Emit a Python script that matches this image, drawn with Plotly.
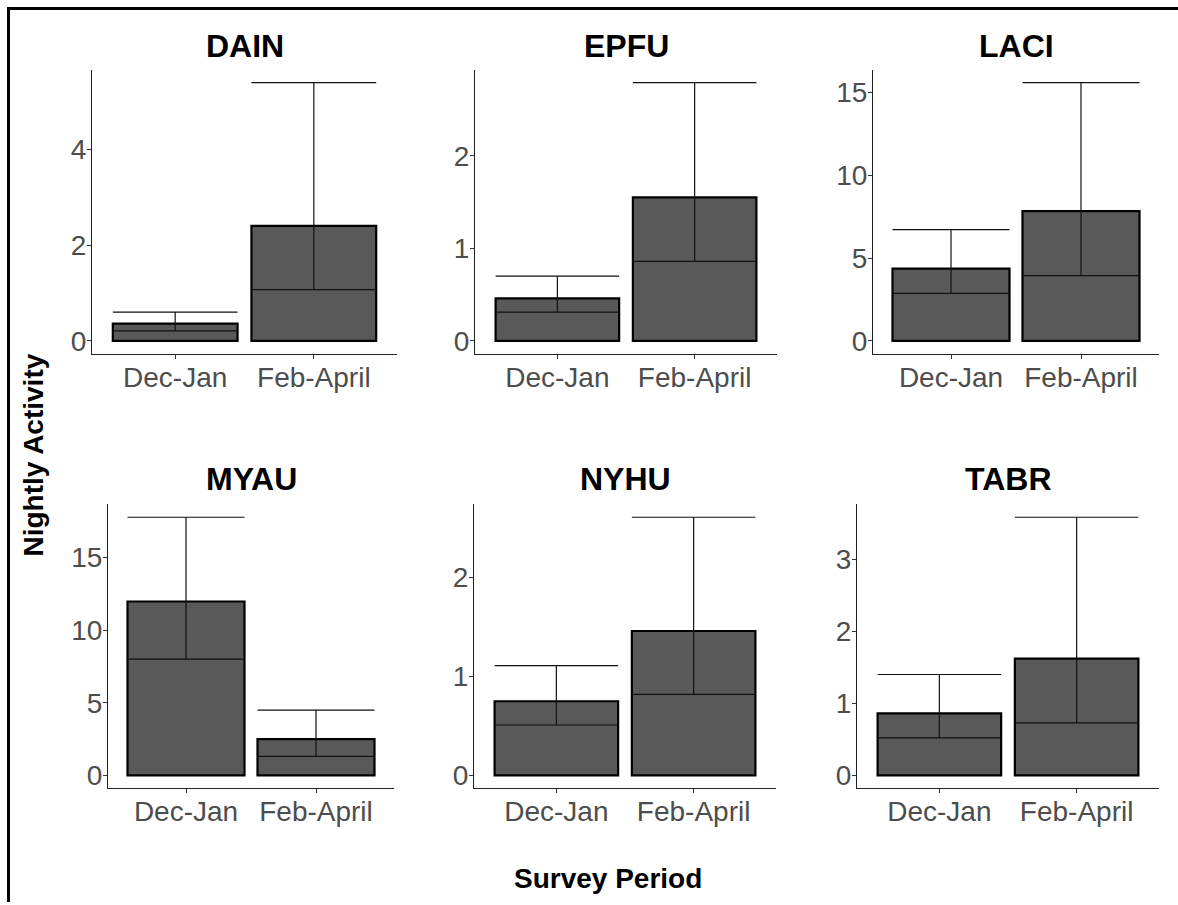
import plotly.graph_objects as go

W, H = 1178, 905

# ---------------- data ----------------
periods = ["Dec-Jan", "Feb-April"]
species = ["DAIN", "EPFU", "LACI", "MYAU", "NYHU", "TABR"]

DAIN_mean = [0.36, 2.40]
DAIN_lower = [0.21, 1.07]
DAIN_upper = [0.60, 5.39]

EPFU_mean = [0.46, 1.55]
EPFU_lower = [0.31, 0.86]
EPFU_upper = [0.70, 2.79]

LACI_mean = [4.37, 7.84]
LACI_lower = [2.87, 3.95]
LACI_upper = [6.72, 15.60]

MYAU_mean = [11.97, 2.50]
MYAU_lower = [8.00, 1.32]
MYAU_upper = [17.77, 4.50]

NYHU_mean = [0.75, 1.46]
NYHU_lower = [0.51, 0.82]
NYHU_upper = [1.11, 2.61]

TABR_mean = [0.86, 1.62]
TABR_lower = [0.52, 0.73]
TABR_upper = [1.40, 3.58]

y_dticks = [2, 1, 5, 5, 1, 1]

series = [
    (DAIN_mean, DAIN_lower, DAIN_upper),
    (EPFU_mean, EPFU_lower, EPFU_upper),
    (LACI_mean, LACI_lower, LACI_upper),
    (MYAU_mean, MYAU_lower, MYAU_upper),
    (NYHU_mean, NYHU_lower, NYHU_upper),
    (TABR_mean, TABR_lower, TABR_upper),
]

# ---------------- layout (pixel boxes: left, right, top, bottom) ----------------
boxes = [
    (92, 397, 70, 355),
    (475, 777, 70, 355),
    (873, 1159, 70, 355),
    (108, 394, 506, 791),
    (474, 776, 506, 791),
    (857, 1159, 506, 791),
]

FONT = "Liberation Sans, Arial, Helvetica, sans-serif"
BAR_FILL = "#595959"
TICK_COLOR = "#4D4D4D"

fig = go.Figure()
layout = dict(
    width=W, height=H,
    margin=dict(l=0, r=0, t=0, b=0),
    paper_bgcolor="white", plot_bgcolor="white",
    showlegend=False,
    font=dict(family=FONT),
    annotations=[], shapes=[],
)

for i, (sp, (m, lo, up), box, dt) in enumerate(zip(species, series, boxes, y_dticks)):
    n = i + 1
    xa = "x" if n == 1 else f"x{n}"
    ya = "y" if n == 1 else f"y{n}"
    left, right, top, bottom = box
    px_per_cat = (right - left) / 2.2
    half_w = 0.45 * px_per_cat

    fig.add_trace(go.Bar(
        x=periods, y=m, width=0.9,
        xaxis=xa, yaxis=ya,
        marker=dict(color=BAR_FILL, line=dict(color="black", width=2.2)),
        error_y=dict(
            type="data", symmetric=False,
            array=[u - v for u, v in zip(up, m)],
            arrayminus=[v - l for v, l in zip(m, lo)],
            color="#111111", thickness=1.2, width=half_w,
        ),
        hoverinfo="skip",
    ))

    ymax = max(up)
    yr = [-0.05 * ymax, 1.05 * ymax]

    axis_common = dict(
        showline=True, linecolor="#222222", linewidth=1.2,
        ticks="outside", ticklen=4, tickwidth=1, tickcolor="#333333",
        tickfont=dict(family=FONT, size=28, color=TICK_COLOR),
        showgrid=False, zeroline=False, fixedrange=True,
    )
    layout[f"xaxis{n if n > 1 else ''}"] = dict(
        domain=[left / W, right / W],
        anchor=ya, type="category",
        categoryorder="array", categoryarray=periods,
        range=[-0.6, 1.6], tickangle=0, ticklabelstandoff=-6,
        **axis_common,
    )
    layout[f"yaxis{n if n > 1 else ''}"] = dict(
        domain=[1 - bottom / H, 1 - top / H],
        anchor=xa, range=yr, tick0=0, dtick=dt, ticklabelstandoff=-5,
        **axis_common,
    )

    # panel title
    layout["annotations"].append(dict(
        text=sp, xref="paper", yref="paper",
        x=(left + right) / 2 / W, y=1 - (46 if i < 3 else 481) / H,
        xanchor="center", yanchor="middle", showarrow=False,
        font=dict(family=FONT, size=32, color="black", weight="bold"),
    ))

# shared axis titles
layout["annotations"].append(dict(
    text="Nightly Activity", xref="paper", yref="paper",
    x=33 / W, y=1 - 457 / H, xanchor="center", yanchor="middle",
    textangle=-90, showarrow=False,
    font=dict(family=FONT, size=28, color="black", weight="bold"),
))
layout["annotations"].append(dict(
    text="Survey Period", xref="paper", yref="paper",
    x=608 / W, y=1 - 881 / H, xanchor="center", yanchor="middle",
    showarrow=False,
    font=dict(family=FONT, size=28, color="black", weight="bold"),
))

# outer frame (only left and top edges fall inside the picture)
layout["shapes"].append(dict(
    type="line", xref="paper", yref="paper",
    x0=8.5 / W, x1=8.5 / W, y0=0, y1=1 - 7 / H,
    line=dict(color="black", width=3),
))
layout["shapes"].append(dict(
    type="line", xref="paper", yref="paper",
    x0=7 / W, x1=1, y0=1 - 8.5 / H, y1=1 - 8.5 / H,
    line=dict(color="black", width=3),
))

fig.update_layout(**layout)
fig.write_html("out.html", config=dict(displayModeBar=False))
